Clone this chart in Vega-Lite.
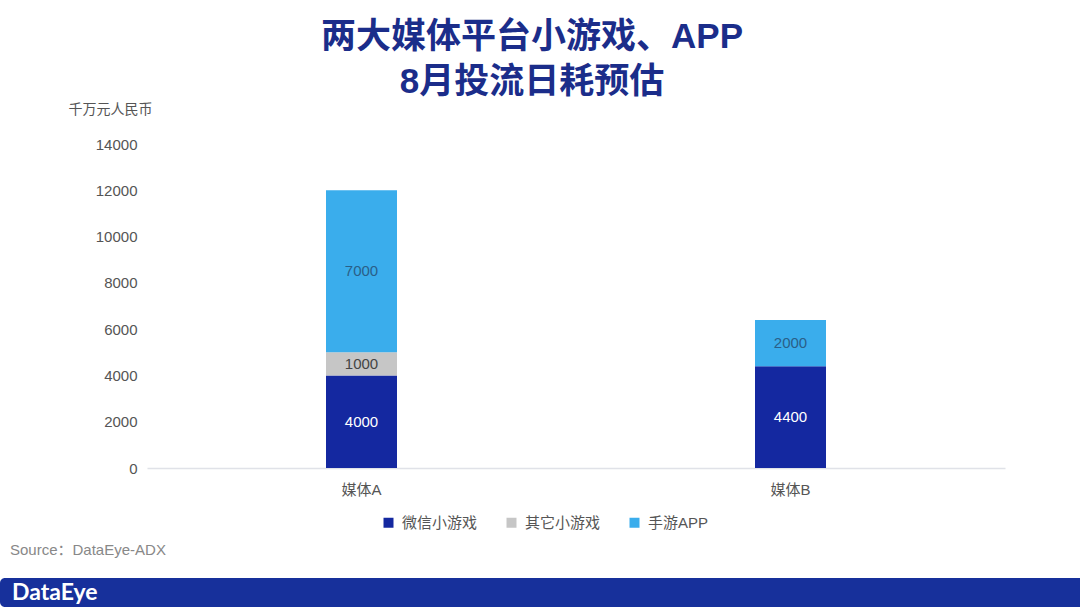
{
  "$schema": "https://vega.github.io/schema/vega-lite/v6.json",
  "background": "white",
  "padding": {"left": 0, "top": 20, "right": 0, "bottom": 0},
  "title": {
    "text": ["两大媒体平台小游戏、APP", "8月投流日耗预估"],
    "fontSize": 35,
    "fontWeight": "bold",
    "color": "#1b2d8a",
    "lineHeight": 45,
    "anchor": "middle",
    "font": "Liberation Sans, Noto Sans CJK SC",
    "offset": 2,
    "dx": -44
  },
  "spacing": 12,
  "center": true,
  "vconcat": [
    {
      "width": 858,
      "height": 324,
      "data": {
        "values": [
          {"media": "媒体A", "series": "微信小游戏", "value": 4000, "ord": 1},
          {"media": "媒体A", "series": "其它小游戏", "value": 1000, "ord": 2},
          {"media": "媒体A", "series": "手游APP", "value": 7000, "ord": 3},
          {"media": "媒体B", "series": "微信小游戏", "value": 4400, "ord": 1},
          {"media": "媒体B", "series": "手游APP", "value": 2000, "ord": 3}
        ]
      },
      "layer": [
        {
          "mark": {"type": "bar", "size": 71},
          "encoding": {
            "x": {
              "field": "media", "type": "nominal",
              "scale": {"paddingInner": 0, "paddingOuter": 0},
              "axis": {"title": null, "labelAngle": 0, "domain": true, "domainColor": "#e0e2e8", "domainWidth": 1.5, "ticks": false, "labelPadding": 14, "labelFontSize": 15, "labelColor": "#555555"}
            },
            "y": {
              "field": "value", "type": "quantitative", "stack": "zero",
              "scale": {"domain": [0, 14000]},
              "axis": {
                "title": "千万元人民币", "titleAngle": 0, "titleAlign": "left", "titleBaseline": "middle",
                "titleX": -79, "titleY": -35, "titleFontSize": 14, "titleFontWeight": "normal", "titleColor": "#555555",
                "values": [0, 2000, 4000, 6000, 8000, 10000, 12000, 14000], "format": "d",
                "grid": false, "domain": false, "ticks": false, "labelPadding": 10, "labelFontSize": 15, "labelColor": "#555555",
                "minExtent": 147
              }
            },
            "color": {
              "field": "series", "type": "nominal",
              "scale": {"domain": ["微信小游戏", "其它小游戏", "手游APP"], "range": ["#1428a0", "#c6c6c6", "#3aadec"]},
              "legend": {
                "title": null, "orient": "none", "legendX": 234, "legendY": 371, "direction": "horizontal",
                "symbolType": "square", "symbolSize": 100, "symbolStrokeWidth": 0,
                "labelFontSize": 15, "labelColor": "#555555", "columnPadding": 26, "labelOffset": 6
              }
            },
            "order": {"field": "ord", "type": "quantitative"}
          }
        },
        {
          "mark": {"type": "text", "fontSize": 15, "baseline": "middle"},
          "encoding": {
            "x": {"field": "media", "type": "nominal"},
            "y": {"field": "value", "type": "quantitative", "stack": "zero", "bandPosition": 0.5},
            "detail": {"field": "series", "type": "nominal"},
            "order": {"field": "ord", "type": "quantitative"},
            "text": {"field": "value", "type": "quantitative", "format": "d"},
            "color": {
              "condition": [
                {"test": "datum.series === '微信小游戏'", "value": "#ffffff"},
                {"test": "datum.series === '其它小游戏'", "value": "#444444"}
              ],
              "value": "#2a5f88"
            }
          }
        }
      ],
      "resolve": {"legend": {"color": "independent"}}
    },
    {
      "width": 1152,
      "height": 29,
      "view": {"fill": "#17309b", "stroke": null, "cornerRadius": 5},
      "title": {"text": "Source：DataEye-ADX", "anchor": "start", "fontSize": 15, "fontWeight": "normal", "color": "#888888", "dx": 10, "offset": 20},
      "data": {"values": [{"logo": "DataEye"}]},
      "mark": {"type": "text", "align": "left", "baseline": "middle", "dx": 12, "fontSize": 23, "fontWeight": "bold", "font": "Lato", "color": "#ffffff"},
      "encoding": {
        "text": {"field": "logo", "type": "nominal"},
        "x": {"datum": 0, "type": "quantitative", "scale": {"domain": [0, 1]}, "axis": null}
      }
    }
  ],
  "resolve": {"legend": {"color": "independent"}},
  "config": {
    "font": "Liberation Sans, Noto Sans CJK SC",
    "view": {"stroke": null}
  }
}
